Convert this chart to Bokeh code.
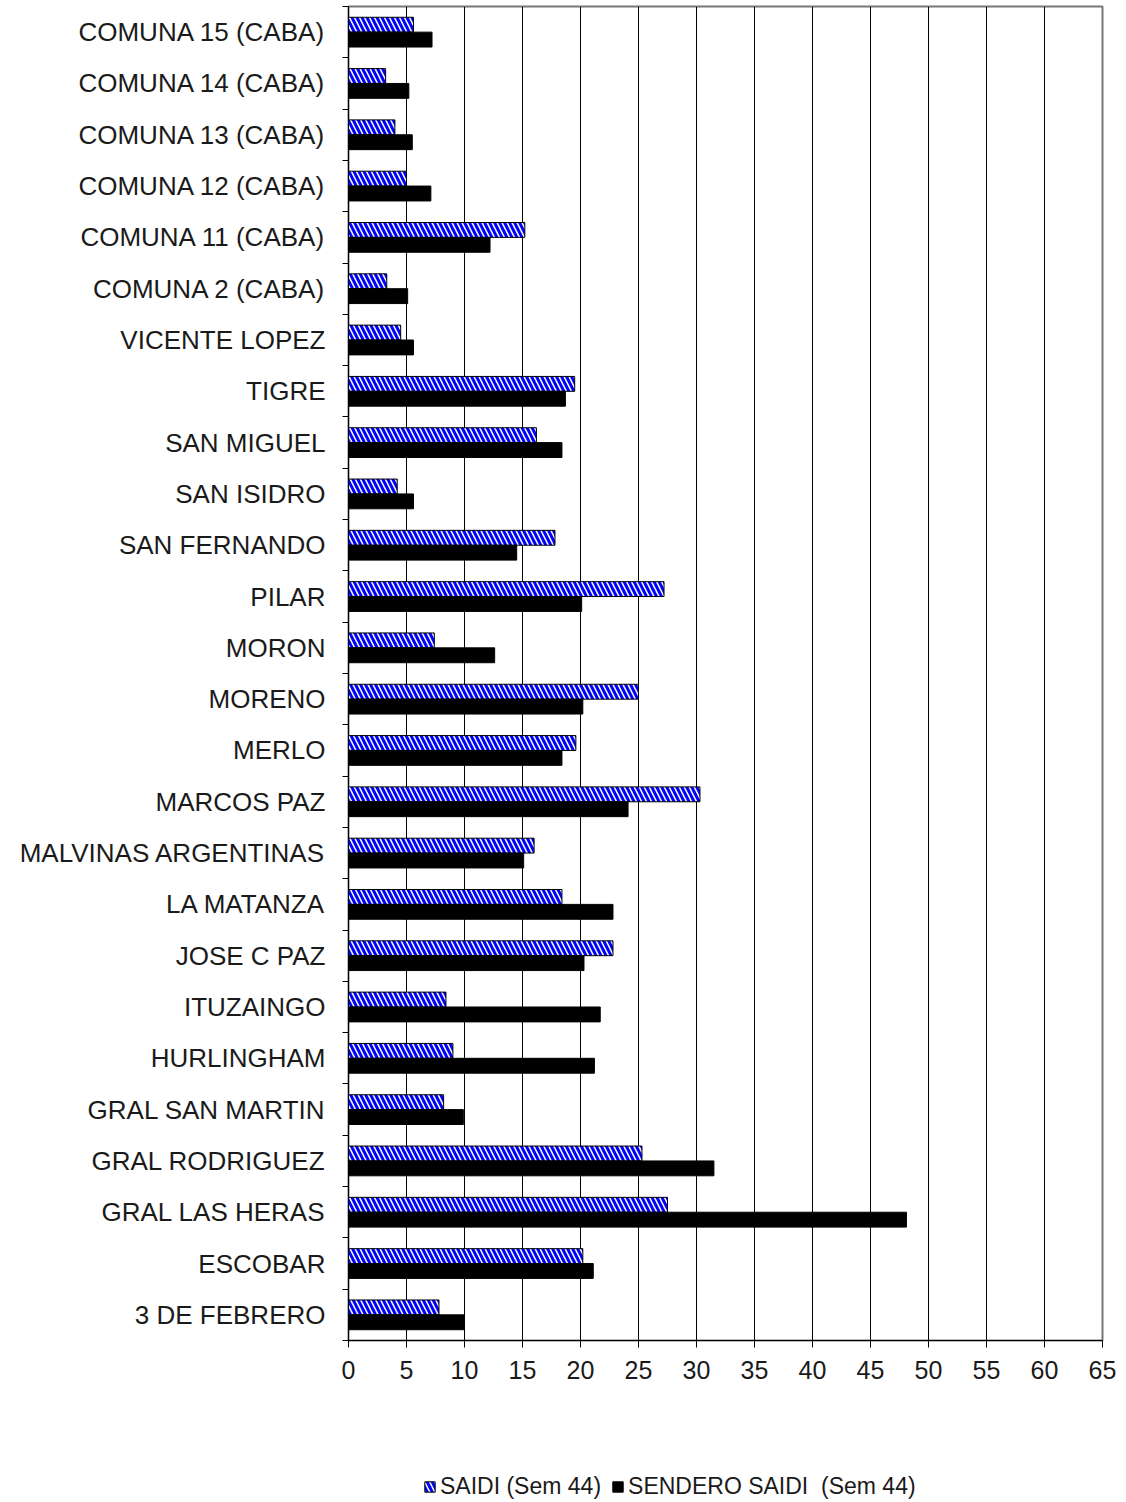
from bokeh.plotting import figure
from bokeh.models import (ColumnDataSource, FixedTicker, Legend, LegendItem,
                          LinearAxis, Range1d)
from bokeh.layouts import column
from bokeh.embed import file_html
from bokeh.resources import INLINE

# Bottom-to-top order as drawn
localidades = [
    "3 DE FEBRERO", "ESCOBAR", "GRAL LAS HERAS", "GRAL RODRIGUEZ",
    "GRAL SAN MARTIN", "HURLINGHAM", "ITUZAINGO", "JOSE C PAZ",
    "LA MATANZA", "MALVINAS ARGENTINAS", "MARCOS PAZ", "MERLO",
    "MORENO", "MORON", "PILAR", "SAN FERNANDO", "SAN ISIDRO",
    "SAN MIGUEL", "TIGRE", "VICENTE LOPEZ", "COMUNA 2 (CABA)",
    "COMUNA 11 (CABA)", "COMUNA 12 (CABA)", "COMUNA 13 (CABA)",
    "COMUNA 14 (CABA)", "COMUNA 15 (CABA)",
]
saidi = [
    7.8, 20.2, 27.5, 25.3, 8.2, 9.0, 8.4, 22.8, 18.4, 16.0, 30.3, 19.6,
    25.0, 7.4, 27.2, 17.8, 4.2, 16.2, 19.5, 4.5, 3.3, 15.2, 5.0, 4.0,
    3.2, 5.6,
]
sendero_saidi = [
    10.0, 21.1, 48.1, 31.5, 9.9, 21.2, 21.7, 20.3, 22.8, 15.1, 24.1, 18.4,
    20.2, 12.6, 20.1, 14.5, 5.6, 18.4, 18.7, 5.6, 5.1, 12.2, 7.1, 5.5,
    5.2, 7.2,
]
x_ticks = list(range(0, 70, 5))
series_labels = ["SAIDI (Sem 44)", "SENDERO SAIDI  (Sem 44)"]

idx = list(range(len(localidades)))
src = ColumnDataSource(dict(
    pos=idx,
    saidi=saidi,
    sendero=sendero_saidi,
    y_saidi=[i + 0.145 for i in idx],
    y_sendero=[i - 0.145 for i in idx],
))

FONT = "Liberation Sans"
SAIDI_STYLE = dict(fill_color="#fffff0", line_color="black", line_width=1,
                   hatch_pattern="left_diagonal_line", hatch_color="#0000ff",
                   hatch_weight=3, hatch_scale=10)
SENDERO_STYLE = dict(fill_color="black", line_color="black")

p = figure(width=1116, height=1400, output_backend="svg",
           toolbar_location=None,
           x_range=Range1d(0, 65),
           y_range=Range1d(-0.5, len(localidades) - 0.5),
           min_border_left=348, min_border_right=14,
           min_border_top=6, min_border_bottom=60,
           x_axis_location="below", y_axis_location=None)

p.hbar(y="y_saidi", right="saidi", left=0, height=0.29, source=src,
       **SAIDI_STYLE)
p.hbar(y="y_sendero", right="sendero", left=0, height=0.29, source=src,
       **SENDERO_STYLE)

# Y axis: labels at category centres, ticks at category boundaries
yaxis = LinearAxis(
    ticker=FixedTicker(ticks=idx,
                       minor_ticks=[i - 0.5 for i in range(len(localidades) + 1)]),
    major_label_overrides={i: n for i, n in enumerate(localidades)},
    major_tick_out=0, major_tick_in=0,
    minor_tick_out=6, minor_tick_in=0,
    minor_tick_line_color="black",
    axis_line_color="black",
    major_label_text_font=FONT,
    major_label_text_font_size="26px",
    major_label_text_color="#1a1a1a",
    major_label_standoff=17,
)
p.add_layout(yaxis, "left")

p.xaxis.ticker = FixedTicker(ticks=x_ticks)
p.xaxis.major_tick_out = 7
p.xaxis.major_tick_in = 0
p.xaxis.minor_tick_line_color = None
p.xaxis.axis_line_color = "black"
p.xaxis.major_tick_line_color = "black"
p.xaxis.major_label_text_font = FONT
p.xaxis.major_label_text_font_size = "25px"
p.xaxis.major_label_text_color = "#1a1a1a"
p.xaxis.major_label_standoff = 13

p.xgrid.ticker = FixedTicker(ticks=x_ticks)
p.xgrid.grid_line_color = "black"
p.xgrid.grid_line_width = 1
p.ygrid.grid_line_color = None

p.outline_line_color = "#777777"
p.outline_line_width = 2
p.background_fill_color = "white"
p.border_fill_color = "white"

# Legend strip below the chart (its frame is aligned with the chart frame)
lg = figure(width=1116, height=100, output_backend="svg",
            toolbar_location=None, x_range=Range1d(0, 1), y_range=Range1d(0, 1),
            min_border=0, x_axis_location=None, y_axis_location=None)
lg.grid.grid_line_color = None
lg.outline_line_color = None
# proxy renderers, kept outside the visible range, only for the legend swatches
proxy = ColumnDataSource(dict(y=[-10], right=[1]))
g1 = lg.hbar(y="y", right="right", left=0, height=0.1, source=proxy,
             **SAIDI_STYLE)
g2 = lg.hbar(y="y", right="right", left=0, height=0.1, source=proxy,
             **SENDERO_STYLE)
legend = Legend(items=[
    LegendItem(label=series_labels[0], renderers=[g1]),
    LegendItem(label=series_labels[1], renderers=[g2]),
], orientation="horizontal", location=(75, 0),
    label_text_font=FONT, label_text_font_size="23px",
    label_text_color="#1a1a1a",
    glyph_width=13, glyph_height=13, label_standoff=4, spacing=10,
    padding=0, margin=0, border_line_color=None,
    background_fill_alpha=0)
lg.add_layout(legend, "center")

layout = column(p, lg, spacing=0)
open("out.html", "w").write(file_html(layout, INLINE))
